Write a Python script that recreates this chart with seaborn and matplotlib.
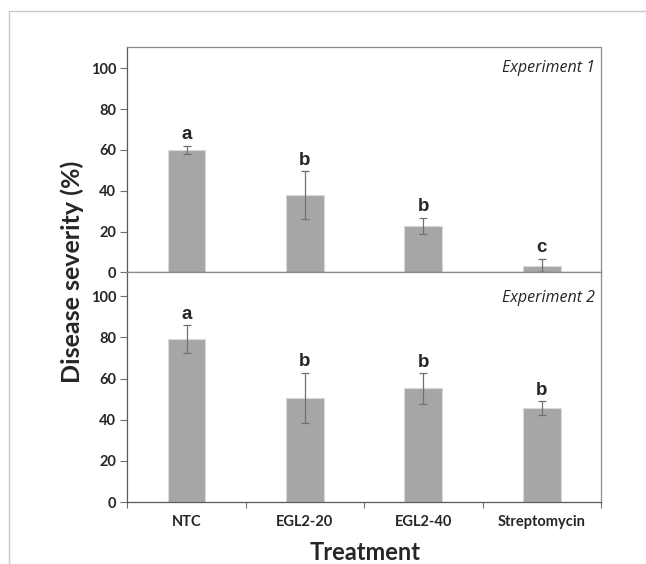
import numpy as np
import pandas as pd
import matplotlib
matplotlib.use('Agg')
import matplotlib.pyplot as plt
from matplotlib.lines import Line2D
import seaborn as sns

# data
treatments = ['NTC', 'EGL2-20', 'EGL2-40', 'Streptomycin']
exp1_mean = [60.1, 37.9, 22.7, 2.9]
exp1_err = [2.0, 11.7, 4.1, 3.8]
exp1_letters = ['a', 'b', 'b', 'c']
exp2_mean = [79.2, 50.5, 55.3, 45.7]
exp2_err = [6.8, 12.3, 7.4, 3.2]
exp2_letters = ['a', 'b', 'b', 'b']
yticks = [0, 20, 40, 60, 80, 100]

sns.set_style('white')
plt.rcParams['font.family'] = ['Lato', 'DejaVu Sans']

fig = plt.figure(figsize=(6.46, 5.64), dpi=100)
ax1 = fig.add_axes([0.1971, 0.5172, 0.7333, 0.4000])
ax2 = fig.add_axes([0.1971, 0.1099, 0.7333, 0.4073])

# thin grey frame lines of the original slide
fig.add_artist(Line2D([9/646, 1], [1 - 11.3/564, 1 - 11.3/564], color='#c8c8c8', lw=1))
fig.add_artist(Line2D([9/646, 9/646], [0, 1 - 11.3/564], color='#c8c8c8', lw=1))


def panel(ax, means, errs, letters, label, ytop, label_y, show_x):
    df = pd.DataFrame({'Treatment': treatments, 'sev': means})
    sns.barplot(data=df, x='Treatment', y='sev', color='#a6a6a6', saturation=1,
                width=0.32, edgecolor='#d9d9d9', linewidth=0.8, ax=ax)
    lo = [min(e, m) for m, e in zip(means, errs)]
    ax.errorbar(range(len(means)), means, yerr=[lo, errs], fmt='none',
                ecolor='#707070', elinewidth=0.9, capsize=3, capthick=0.9)
    for i, (m, e, t) in enumerate(zip(means, errs, letters)):
        ax.text(i, m + e + 1.2, t, ha='center', va='bottom', fontsize=13.5,
                fontweight='bold', family='Liberation Sans')
    ax.set_xlim(-0.5, 3.5)
    ax.set_ylim(0, ytop)
    ax.set_yticks(yticks)
    ax.set_yticklabels([str(v) for v in yticks], fontsize=10.5, fontweight='bold')
    ax.set_xticks([-0.5, 0.5, 1.5, 2.5, 3.5], minor=False)
    ax.set_xticklabels([])
    ax.tick_params(axis='y', which='major', direction='out', length=5,
                   width=0.8, color='#707070', left=True, pad=3)
    ax.tick_params(axis='x', which='major', direction='out', length=4,
                   width=0.8, color='#707070', bottom=True)
    if show_x:
        ax.set_xticks([0, 1, 2, 3], minor=True)
        ax.set_xticklabels(treatments, minor=True, fontsize=10.5, fontweight='bold')
        ax.tick_params(axis='x', which='minor', length=0, pad=9)
    ax.set_xlabel('')
    ax.set_ylabel('')
    for s in ['top', 'right']:
        ax.spines[s].set_color('#8c8c8c')
        ax.spines[s].set_linewidth(0.9)
    for s in ['bottom', 'left']:
        ax.spines[s].set_color('#595959')
        ax.spines[s].set_linewidth(0.9)
    ax.text(0.987, label_y, label, transform=ax.transAxes, ha='right', va='top',
            fontsize=11.5, fontstyle='italic', family='Open Sans')


panel(ax1, exp1_mean, exp1_err, exp1_letters, 'Experiment 1', 110.6, 0.94, False)
panel(ax2, exp2_mean, exp2_err, exp2_letters, 'Experiment 2', 111.7, 0.925, True)

fig.text(72/646, 1 - 272/564, 'Disease severity (%)', rotation=90, ha='center',
         va='center', fontsize=18, fontweight='bold')
fig.text(365/646, 1 - 553/564, 'Treatment', ha='center', va='center',
         fontsize=17, fontweight='bold')

fig.savefig('out.png', dpi=100)
